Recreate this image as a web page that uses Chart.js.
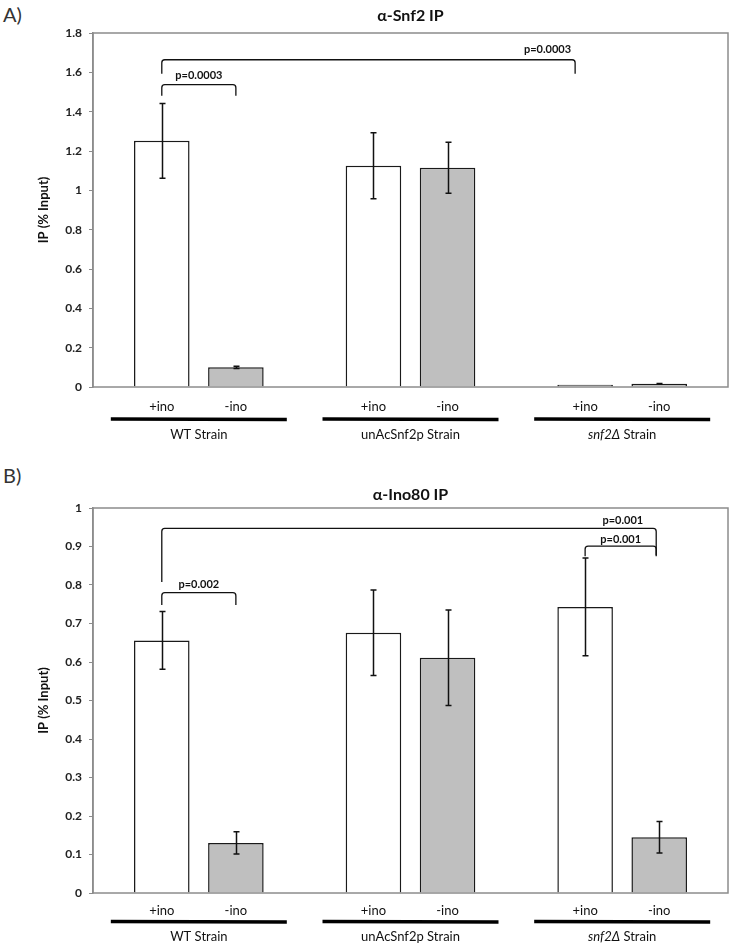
<!DOCTYPE html>
<html><head><meta charset="utf-8">
<script src="https://cdn.jsdelivr.net/npm/chart.js@4"></script>
<style>
html,body{margin:0;padding:0;background:#fff}
body{width:730px;height:946px;position:relative;overflow:hidden}
.panel{position:absolute;left:3px;font-family:Lato,"Open Sans",sans-serif;font-size:20px;color:#333}
canvas{position:absolute;left:0}
#c1{top:0}
#c2{top:460px}
</style>
</head><body>
<div class="panel" style="top:2px">A)</div>
<div class="panel" style="top:463px">B)</div>
<canvas id="c1" width="730" height="460"></canvas>
<canvas id="c2" width="730" height="486"></canvas>
<script>
// ---- data ----
const categories = ['WT Strain', 'unAcSnf2p Strain', 'snf2Δ Strain'];
const italicPrefix = ['', '', 'snf2Δ'];
const conditions = ['+ino', '-ino'];

const snf2Plus = [1.252, 1.125, 0.011];
const snf2PlusErr = [0.19, 0.168, 0];
const snf2Minus = [0.100, 1.115, 0.016];
const snf2MinusErr = [0.006, 0.13, 0.002];
const snf2Ticks = [0, 0.2, 0.4, 0.6, 0.8, 1, 1.2, 1.4, 1.6, 1.8];

const ino80Plus = [0.656, 0.676, 0.743];
const ino80PlusErr = [0.075, 0.111, 0.127];
const ino80Minus = [0.130, 0.611, 0.145];
const ino80MinusErr = [0.029, 0.124, 0.041];
const ino80Ticks = [0, 0.1, 0.2, 0.3, 0.4, 0.5, 0.6, 0.7, 0.8, 0.9, 1];

const FONT = 'Lato, "Open Sans", sans-serif';
const AXIS = '#8c8c8c';

const decor = {
  id: 'decor',
  afterDatasetsDraw(chart, args, o) {
    const ctx = chart.ctx, ca = chart.chartArea, ys = chart.scales.y, xs = chart.scales.x;
    ctx.save();
    // frame
    ctx.strokeStyle = AXIS; ctx.lineWidth = 1.5;
    ctx.strokeRect(ca.left, ca.top, ca.right - ca.left, ca.bottom - ca.top);
    // error bars
    ctx.strokeStyle = '#111'; ctx.lineWidth = 1.5;
    o.errors.forEach((errs, di) => {
      const meta = chart.getDatasetMeta(di);
      meta.data.forEach((bar, i) => {
        const v = chart.data.datasets[di].data[i], e = errs[i];
        if (!e) return;
        const x = Math.round(bar.x) + 0.5;
        const yt = ys.getPixelForValue(v + e), yb = ys.getPixelForValue(v - e);
        ctx.beginPath();
        ctx.moveTo(x, yt); ctx.lineTo(x, yb);
        ctx.moveTo(x - 3, yt); ctx.lineTo(x + 3, yt);
        ctx.moveTo(x - 3, yb); ctx.lineTo(x + 3, yb);
        ctx.stroke();
      });
    });
    // brackets
    ctx.lineWidth = 1.3; ctx.strokeStyle = '#111'; ctx.fillStyle = '#111';
    ctx.font = 'bold 11px ' + FONT; ctx.textBaseline = 'middle';
    o.brackets.forEach(b => {
      const x1 = chart.getDatasetMeta(b.from[0]).data[b.from[1]].x;
      const x2 = chart.getDatasetMeta(b.to[0]).data[b.to[1]].x + (b.dxTo || 0);
      const yTop = ys.getPixelForValue(b.y);
      const yl = ys.getPixelForValue(b.legFrom), yr = ys.getPixelForValue(b.legTo);
      const r = 3;
      ctx.beginPath();
      ctx.moveTo(x1, yl);
      ctx.arcTo(x1, yTop, x1 + r, yTop, r);
      ctx.arcTo(x2, yTop, x2, yTop + r, r);
      ctx.lineTo(x2, yr);
      ctx.stroke();
      const ty = ys.getPixelForValue(b.labelY);
      if (b.labelAlign === 'right') { ctx.textAlign = 'right'; ctx.fillText(b.label, x2 + b.labelDx, ty); }
      else { ctx.textAlign = 'center'; ctx.fillText(b.label, (x1 + x2) / 2, ty); }
    });
    // x labels
    ctx.fillStyle = '#111'; ctx.textAlign = 'center';
    categories.forEach((cat, i) => {
      const cx = xs.getPixelForValue(i);
      ctx.font = '13px ' + FONT;
      conditions.forEach((c, di) => {
        const bx = chart.getDatasetMeta(di).data[i].x;
        ctx.fillText(c, bx, ca.bottom + o.condDy);
      });
      ctx.beginPath(); ctx.lineWidth = 3.5; ctx.strokeStyle = '#000';
      ctx.moveTo(cx - 88, ca.bottom + o.lineDy); ctx.lineTo(cx + 88, ca.bottom + o.lineDy + 0.6);
      ctx.stroke();
      const yy = ca.bottom + o.strainDy;
      const pre = italicPrefix[i];
      if (pre && cat.startsWith(pre)) {
        const rest = cat.slice(pre.length);
        ctx.font = 'italic 13px ' + FONT; const w1 = ctx.measureText(pre).width;
        ctx.font = '13px ' + FONT; const w2 = ctx.measureText(rest).width;
        const sx = cx - (w1 + w2) / 2;
        ctx.textAlign = 'left';
        ctx.font = 'italic 13px ' + FONT; ctx.fillText(pre, sx, yy);
        ctx.font = '13px ' + FONT; ctx.fillText(rest, sx + w1, yy);
        ctx.textAlign = 'center';
      } else {
        ctx.font = '13px ' + FONT; ctx.fillText(cat, cx, yy);
      }
    });
    // title
    ctx.font = 'bold 16px ' + FONT; ctx.textAlign = 'center';
    ctx.fillText(o.title, (ca.left + ca.right) / 2, o.titleY);
    ctx.restore();
  }
};

function makeChart(id, plus, minus, plusErr, minusErr, ticks, pad, extra) {
  const tmin = ticks[0], tmax = ticks[ticks.length - 1];
  return new Chart(document.getElementById(id), {
    type: 'bar',
    data: {
      labels: categories,
      datasets: [
        { label: conditions[0], data: plus, backgroundColor: '#ffffff', borderColor: '#1a1a1a', borderWidth: 1.5, categoryPercentage: 0.7, barPercentage: 0.75 },
        { label: conditions[1], data: minus, backgroundColor: '#bfbfbf', borderColor: '#1a1a1a', borderWidth: 1.5, categoryPercentage: 0.7, barPercentage: 0.75 }
      ]
    },
    options: {
      responsive: false, animation: false, devicePixelRatio: 1,
      layout: { padding: pad },
      plugins: { legend: { display: false }, tooltip: { enabled: false },
        decor: Object.assign({ errors: [plusErr, minusErr] }, extra) },
      scales: {
        x: { display: false },
        y: {
          min: tmin, max: tmax,
          afterBuildTicks(s) { s.ticks = ticks.map(v => ({ value: v })); },
          afterFit(s) { s.width = 93; },
          ticks: { callback: v => String(+(+v).toFixed(2)), color: '#222', padding: 7,
                   font: { family: FONT, size: 12, weight: 'bold' } },
          grid: { drawOnChartArea: false, tickLength: 4, color: AXIS, lineWidth: 1 },
          border: { color: AXIS, width: 1.5 },
          title: { display: true, text: 'IP (% Input)', color: '#111',
                   font: { family: FONT, size: 13, weight: 'bold' }, padding: { top: 36, bottom: 0 } }
        }
      }
    },
    plugins: [decor]
  });
}

makeChart('c1', snf2Plus, snf2Minus, snf2PlusErr, snf2MinusErr, snf2Ticks,
  { top: 33, right: 2, bottom: 73, left: 0 },
  { title: 'α-Snf2 IP', titleY: 16, condDy: 20, lineDy: 32, strainDy: 48,
    brackets: [
      { from: [0, 0], to: [0, 2], dxTo: -10, y: 1.664, legFrom: 1.593, legTo: 1.593, label: 'p=0.0003', labelY: 1.715, labelAlign: 'right', labelDx: -4 },
      { from: [0, 0], to: [1, 0], y: 1.537, legFrom: 1.481, legTo: 1.481, label: 'p=0.0003', labelY: 1.583 }
    ] });

makeChart('c2', ino80Plus, ino80Minus, ino80PlusErr, ino80MinusErr, ino80Ticks,
  { top: 48, right: 2, bottom: 53, left: 0 },
  { title: 'α-Ino80 IP', titleY: 35, condDy: 17.5, lineDy: 28.5, strainDy: 44,
    brackets: [
      { from: [0, 0], to: [1, 2], dxTo: -3, y: 0.947, legFrom: 0.808, legTo: 0.877, label: 'p=0.001', labelY: 0.968, labelAlign: 'right', labelDx: -13 },
      { from: [0, 0], to: [1, 0], y: 0.780, legFrom: 0.748, legTo: 0.748, label: 'p=0.002', labelY: 0.802 },
      { from: [0, 2], to: [1, 2], dxTo: -3, y: 0.901, legFrom: 0.875, legTo: 0.875, label: 'p=0.001', labelY: 0.919 }
    ] });
</script>
</body></html>
